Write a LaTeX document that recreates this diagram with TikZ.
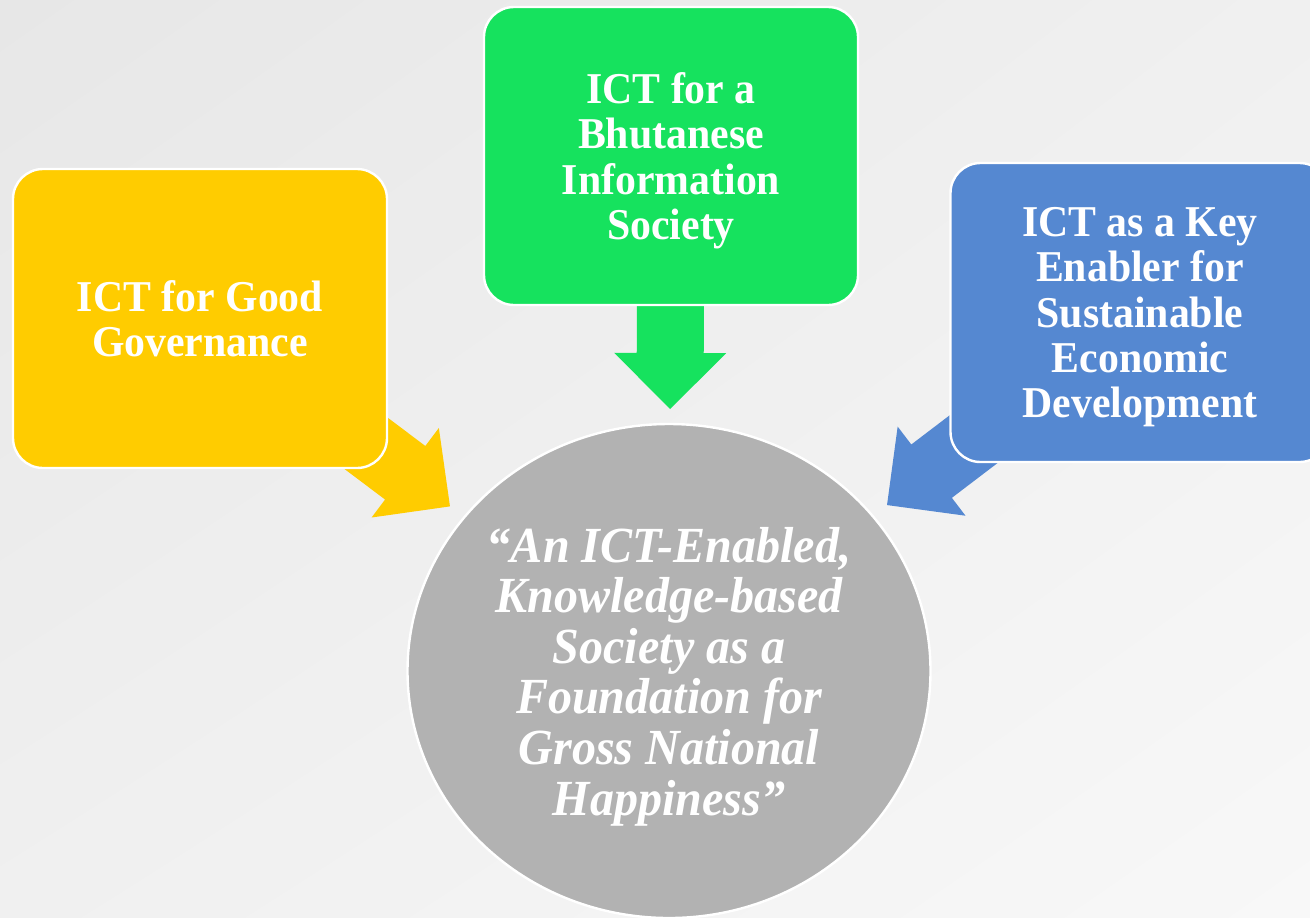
\documentclass[tikz,border=0pt]{standalone}
\usepackage{fontspec}
\setmainfont[FakeStretch=0.95]{Liberation Serif}
\usetikzlibrary{calc,shapes.geometric,backgrounds,shadings}
\definecolor{govyellow}{RGB}{255,204,0}
\definecolor{infogreen}{RGB}{22,226,94}
\definecolor{econblue}{RGB}{85,136,209}
\definecolor{hubgray}{RGB}{178,178,178}
\definecolor{bgA}{RGB}{231,231,231}
\definecolor{bgB}{RGB}{240,240,240}
\definecolor{bgC}{RGB}{248,248,248}
\tikzset{
  box/.style={rectangle, rounded corners=15pt, draw=white, line width=1.2pt, text=white, align=center, text depth=0pt, font=\bfseries\fontsize{22}{22.6}\selectfont},
  hub/.style={ellipse, draw=white, line width=1.2pt, fill=hubgray, text=white, align=center, inner sep=0pt, text depth=0pt, font=\bfseries\itshape\fontsize{25.3}{25.3}\selectfont}
}

\begin{document}
\begin{tikzpicture}[x=0.5pt, y=-0.5pt]
      \useasboundingbox (0,0) rectangle (1310,917);
      \node[box, fill=govyellow, minimum width=187pt, minimum height=149.5pt] (gov) at (200,318.5) {ICT for Good\\Governance};
      \node[box, fill=infogreen, minimum width=187pt, minimum height=149pt] (info) at (671,156) {ICT for a\\Bhutanese\\Information\\Society};
      \node[box, fill=econblue, minimum width=189.5pt, minimum height=149.5pt] (econ) at (1140,312.5) {ICT as a Key\\Enabler for\\Sustainable\\Economic\\Development};
      \node[hub, minimum width=261.5pt, minimum height=247pt] (vision) at (669,671) {“An ICT-Enabled,\\Knowledge-based\\Society as a\\Foundation for\\Gross National\\Happiness”};

      % background and block arrows behind the boxes
      \begin{scope}[on background layer]
        \shade[upper left=bgA, upper right=bgB, lower left=bgB, lower right=bgC] (0,0) rectangle (1310,917);
        \foreach \src/\col/\d in {gov/govyellow/137pt, info/infogreen/131pt, econ/econblue/137pt}{
          \coordinate (tip) at ($(vision.center)!\d!(\src.center)$);
          \coordinate (hb) at ($(tip)!28pt!(\src.center)$);
          \fill[\col] ($(\src.center)!16.75pt!90:(tip)$) -- ($(hb)!16.75pt!90:(tip)$)
            -- ($(hb)!28pt!90:(tip)$) -- (tip) -- ($(hb)!28pt!-90:(tip)$)
            -- ($(hb)!16.75pt!-90:(tip)$) -- ($(\src.center)!16.75pt!-90:(tip)$) -- cycle;
        }
      \end{scope}
\end{tikzpicture}
\end{document}
